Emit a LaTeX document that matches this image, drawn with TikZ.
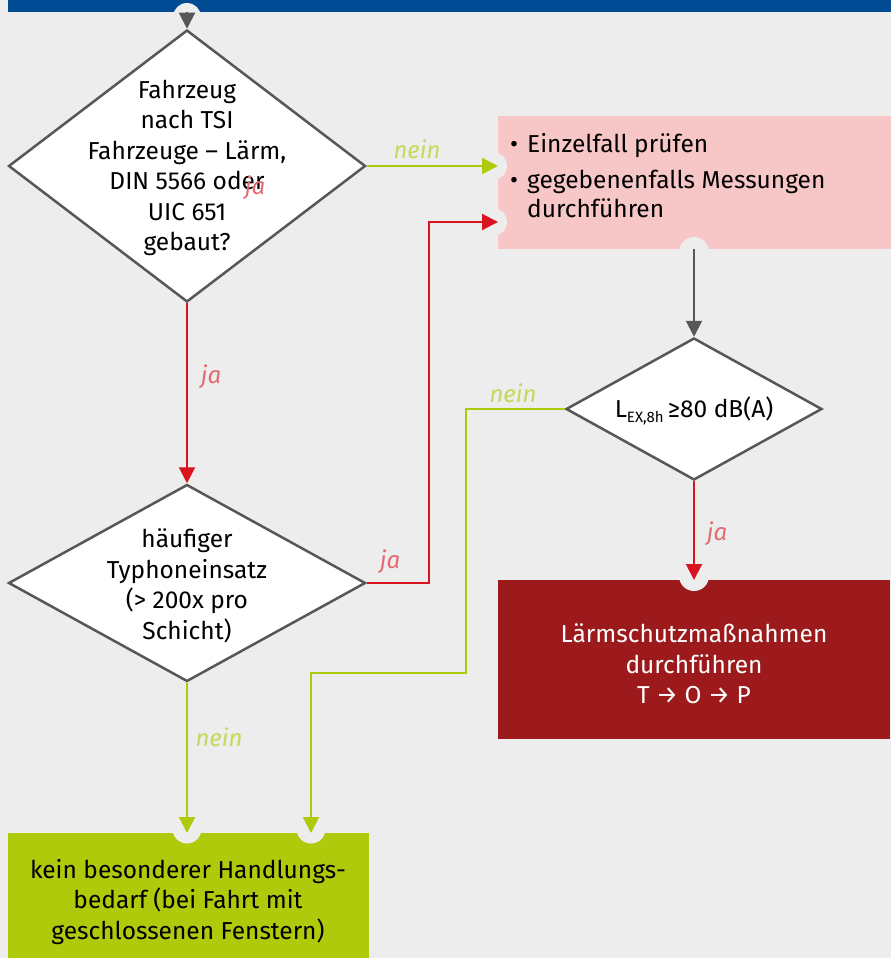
\documentclass[tikz,border=0pt]{standalone}
\usepackage{fontspec}
\setmainfont{Fira Sans}
\usetikzlibrary{arrows.meta,shapes.geometric,calc}
\definecolor{bg}{HTML}{EDEDED}
\definecolor{dbblue}{HTML}{004B93}
\definecolor{dgray}{HTML}{575757}
\definecolor{lred}{HTML}{D9141E}
\definecolor{lgreen}{HTML}{AFCA0B}
\definecolor{pinkbox}{HTML}{F7C6C7}
\definecolor{darkred}{HTML}{9C1A1B}
\definecolor{labred}{HTML}{E56A70}
\definecolor{labgreen}{HTML}{C2DA5A}
\begin{document}
\begin{tikzpicture}[x=1pt,y=-1pt,
  dia/.style={diamond, draw=dgray, line width=2.5pt, fill=white, inner sep=0pt},
  txt/.style={font=\fontsize{24.5}{30.5}\selectfont, align=center, inner sep=0pt},
  lab/.style={font=\fontsize{24}{26}\selectfont\itshape, inner sep=0pt},
  conn/.style={line width=2pt},
  tip/.style={-{Triangle[width=16pt,length=16pt]}},
  notch/.style={fill=bg},
  boxx/.style={inner sep=0pt, anchor=north west}]
\useasboundingbox (0,0) rectangle (891,958);
\fill[bg] (0,0) rectangle (891,958);
\fill[dbblue] (8,0) rectangle (891,12);
% boxes
\node[boxx, fill=pinkbox, minimum width=393pt, minimum height=133pt] (pk) at (498,116) {};
\node[boxx, fill=darkred, minimum width=392pt, minimum height=159pt] (rb) at (498,580) {};
\node[boxx, fill=lgreen, minimum width=361pt, minimum height=125pt] (gb) at (8,833) {};
% notches
\fill[notch] (187,17) circle (14);
\fill[notch] (493,166) circle (14);
\fill[notch] (493,222) circle (14);
\fill[notch] (694,252) circle (15);
\fill[notch] (694,576) circle (15);
\fill[notch] (187,829) circle (14.5);
\fill[notch] (311,829) circle (14.5);
% diamonds
\node[dia, minimum width=357pt, minimum height=272pt] (d1) at (187,166) {};
\node[dia, minimum width=357pt, minimum height=197pt] (d2) at (187,583) {};
\node[dia, minimum width=256pt, minimum height=142pt] (d3) at (694,409) {};
% coordinates
\coordinate (top) at (187,12);
\coordinate (pkin2) at (498,222);
\coordinate (rbend) at (429,222);
\coordinate (gbend) at (466,673);
\coordinate (gin1) at (187,833);
\coordinate (gin2) at (311,833);
% connectors
\draw[conn, dgray, tip] (top) -- (d1.north);
\draw[conn, lgreen, tip] (d1.east) -- (pk.west |- d1.east);
\draw[conn, lred, tip] (d1.south) -- (d2.north);
\draw[conn, lred, tip] (d2.east) -| (rbend) -- (pkin2);
\draw[conn, lgreen, tip] (d2.south) -- (gin1);
\draw[conn, dgray, tip] (d3.north |- pk.south) -- (d3.north);
\draw[conn, lred, tip] (d3.south) -- (d3.south |- rb.north);
\draw[conn, lgreen, tip] (d3.west) -| (gbend) -| (gin2);
% texts
\node[txt] (t1) at (187,168) {Fahrzeug\\nach TSI\\Fahrzeuge – Lärm,\\DIN 5566 oder\\UIC 651\\gebaut?};
\node[txt] (t2) at (187,586) {häufiger\\Typhoneinsatz\\(> 200x pro\\Schicht)};
\node[txt] (t3) at (694,411) {L\raisebox{-5pt}{\fontsize{15}{15}\selectfont EX,8h}\,≥80 dB(A)};
\node[txt, anchor=base west] (b1) at (510,152) {•};
\node[txt, anchor=base west] (p1) at (527,152) {Einzelfall prüfen};
\node[txt, anchor=base west] (b2) at (510,188) {•};
\node[txt, anchor=base west] (p2) at (527,188) {gegebenenfalls Messungen};
\node[txt, anchor=base west] (p3) at (527,217) {durchführen};
\node[txt, text=white] (t4) at (694,664) {Lärmschutzmaßnahmen\\durchführen\\T → O → P};
\node[txt] (t5) at (188,902) {kein besonderer Handlungs-\\bedarf (bei Fahrt mit\\geschlossenen Fenstern)};
% labels
\node[lab, text=labgreen] (l1) at (417,149) {nein};
\node[lab, text=labred] (l2) at (255,188) {ja};
\node[lab, text=labred] (l3) at (211,377) {ja};
\node[lab, text=labred] (l4) at (390,562) {ja};
\node[lab, text=labgreen] (l5) at (513,393) {nein};
\node[lab, text=labred] (l6) at (717,534) {ja};
\node[lab, text=labgreen] (l7) at (219,737) {nein};
\end{tikzpicture}
\end{document}
